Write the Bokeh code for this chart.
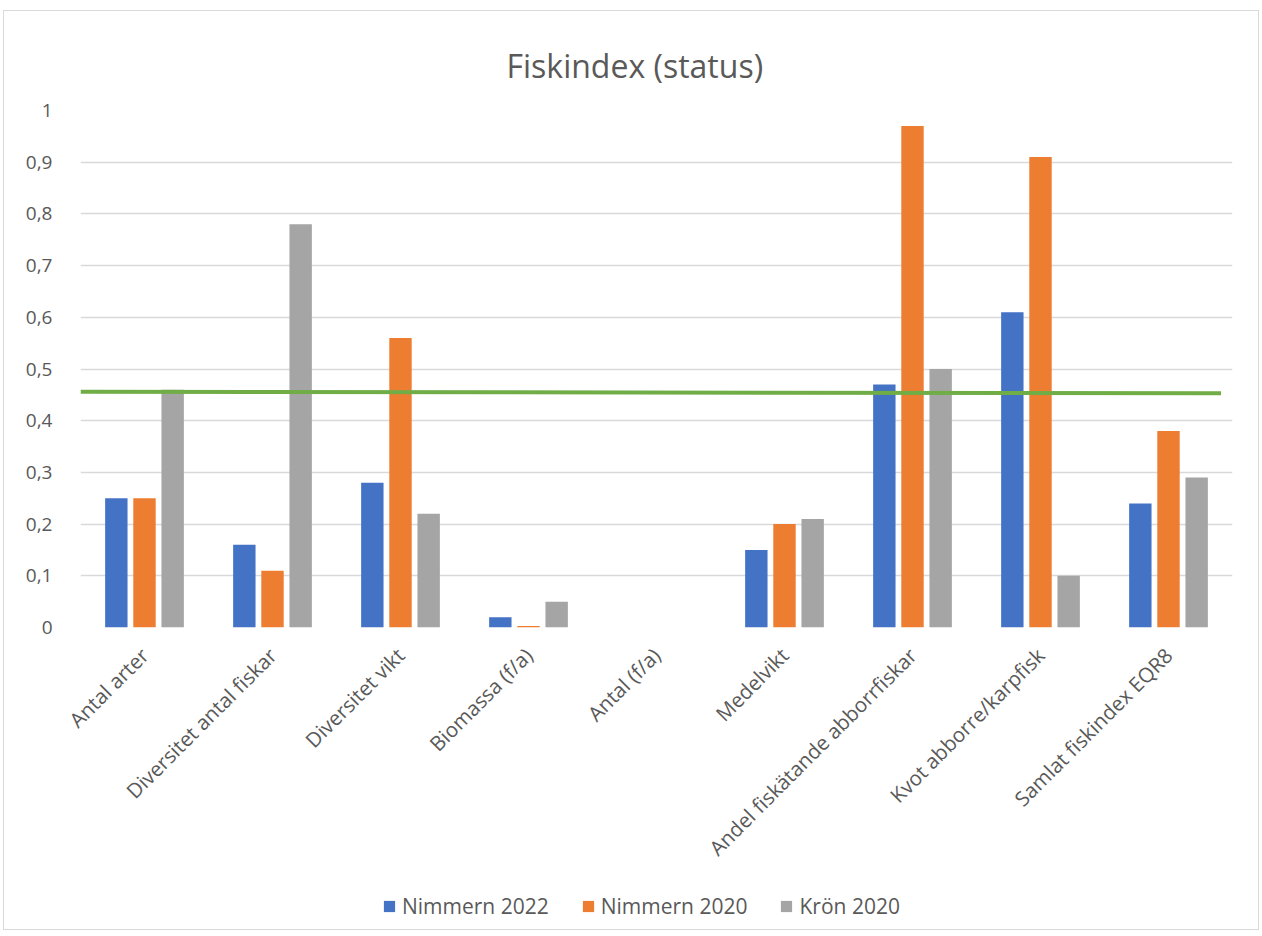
from bokeh.plotting import figure
from bokeh.models import ColumnDataSource, Legend, LegendItem, FixedTicker, Range1d
from bokeh.layouts import column
from bokeh.embed import file_html
from bokeh.resources import INLINE
from math import pi

categories = ["Antal arter", "Diversitet antal fiskar", "Diversitet vikt", "Biomassa (f/a)",
              "Antal (f/a)", "Medelvikt", "Andel fiskätande abborrfiskar",
              "Kvot abborre/karpfisk", "Samlat fiskindex EQR8"]
nimmern_2022 = [0.25, 0.16, 0.28, 0.02, 0.0, 0.15, 0.47, 0.61, 0.24]
nimmern_2020 = [0.25, 0.11, 0.56, 0.003, 0.0, 0.20, 0.97, 0.91, 0.38]
kron_2020 = [0.46, 0.78, 0.22, 0.05, 0.0, 0.21, 0.50, 0.10, 0.29]
series_names = ["Nimmern 2022", "Nimmern 2020", "Krön 2020"]
series_colors = ["#4472C4", "#ED7D31", "#A5A5A5"]
threshold_x = [-0.5, 8.41]
threshold_y = [0.456, 0.453]
y_ticks = [0, 0.1, 0.2, 0.3, 0.4, 0.5, 0.6, 0.7, 0.8, 0.9, 1.0]
y_tick_labels = ["0", "0,1", "0,2", "0,3", "0,4", "0,5", "0,6", "0,7", "0,8", "0,9", "1"]

FONT = "Open Sans"
TXT = "#595959"

p = figure(width=1254, height=872, output_backend="svg", toolbar_location=None,
           x_range=Range1d(-0.5, len(categories) - 0.5), y_range=Range1d(0, 1),
           min_border_left=76, min_border_right=26, min_border_top=99, min_border_bottom=256)
p.outline_line_color = None

p.title.text = "Fiskindex (status)"
p.title.text_font = FONT
p.title.text_font_size = "32px"
p.title.text_font_style = "normal"
p.title.text_color = TXT
p.title.align = "left"
p.title.offset = 426
p.title.standoff = 48

xs = list(range(len(categories)))
offsets = [-0.22, 0.0, 0.22]
sources = []
for vals, off, col in zip([nimmern_2022, nimmern_2020, kron_2020], offsets, series_colors):
    src = ColumnDataSource(dict(x=[x + off for x in xs], top=vals))
    sources.append(src)
    p.vbar(x="x", top="top", width=0.175, source=src, fill_color=col, line_color=None)

p.line(threshold_x, threshold_y, line_color="#70AD47", line_width=4)

p.xaxis.ticker = FixedTicker(ticks=xs)
p.xaxis.major_label_overrides = {i: c for i, c in enumerate(categories)}
p.xaxis.major_label_orientation = pi / 4
p.xaxis.major_label_text_font = FONT
p.xaxis.major_label_text_font_size = "20.5px"
p.xaxis.major_label_text_color = TXT
p.xaxis.major_tick_line_color = None
p.xaxis.minor_tick_line_color = None
p.xaxis.axis_line_color = None
p.xaxis.major_label_standoff = 18

p.yaxis.ticker = FixedTicker(ticks=y_ticks)
p.yaxis.major_label_overrides = {t: l for t, l in zip(y_ticks, y_tick_labels)}
p.yaxis.major_label_text_font = FONT
p.yaxis.major_label_text_font_size = "19px"
p.yaxis.major_label_text_color = TXT
p.yaxis.major_tick_line_color = None
p.yaxis.minor_tick_line_color = None
p.yaxis.axis_line_color = None
p.yaxis.major_label_standoff = 22

p.xgrid.grid_line_color = None
p.ygrid.grid_line_color = "#D9D9D9"
p.ygrid.grid_line_width = 1.5

# legend strip below the chart (same series sources; bars fall outside its view)
lg = figure(width=1254, height=46, output_backend="svg", toolbar_location=None,
            x_range=Range1d(-0.5, len(categories) - 0.5), y_range=Range1d(10, 11), min_border=0)
lg.axis.visible = False
lg.grid.visible = False
lg.outline_line_color = None
leg_renderers = []
for src, col in zip(sources, series_colors):
    leg_renderers.append(lg.vbar(x="x", top="top", width=0.175, source=src, fill_color=col, line_color=None))

legend = Legend(items=[LegendItem(label=n, renderers=[r]) for n, r in zip(series_names, leg_renderers)],
                orientation="horizontal", location=(302, 9))
legend.label_text_font = FONT
legend.label_text_font_size = "21px"
legend.label_text_color = TXT
legend.glyph_width = 14
legend.glyph_height = 14
legend.label_standoff = 6
legend.spacing = 32
legend.border_line_color = None
legend.background_fill_alpha = 0
legend.margin = 0
legend.padding = 2
lg.add_layout(legend, "center")

layout = column(p, lg, spacing=0,
                styles={"margin-left": "3px", "margin-top": "10px", "border": "1px solid #D9D9D9"})

open("out.html", "w").write(file_html(layout, INLINE))
